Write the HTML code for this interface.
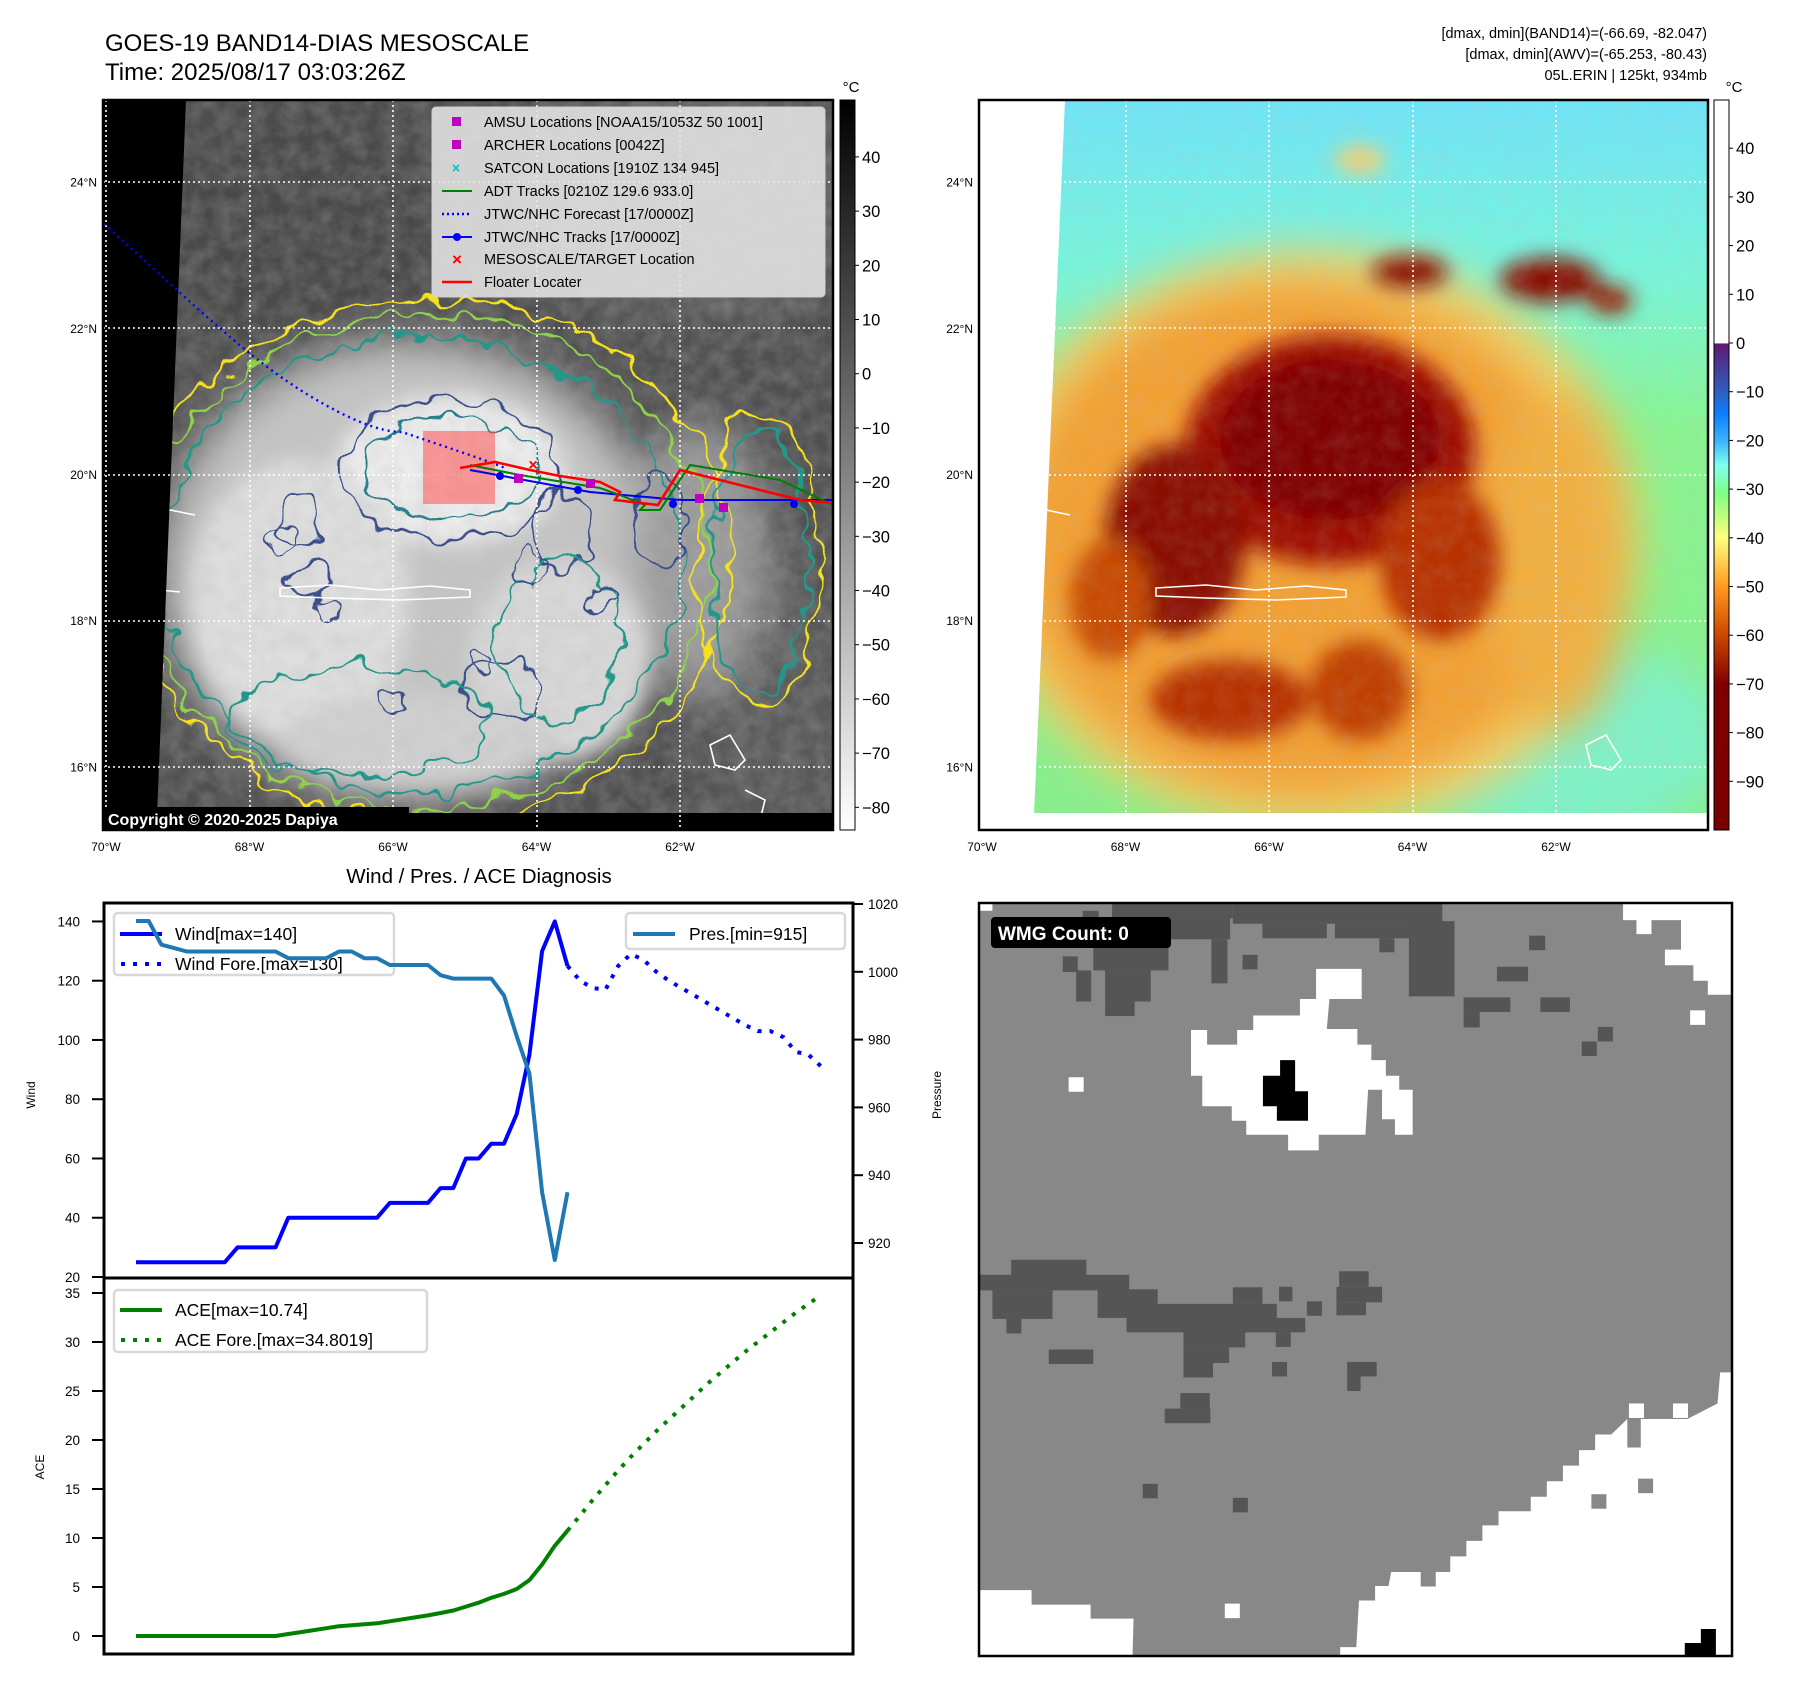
<!DOCTYPE html>
<html><head><meta charset="utf-8"><style>
html,body{margin:0;padding:0;background:#fff;}
svg{display:block;font-family:"Liberation Sans","DejaVu Sans",sans-serif;}
</style></head><body>
<svg id="root" width="1797" height="1690" viewBox="0 0 1797 1690" xmlns="http://www.w3.org/2000/svg">
<defs>
<filter id="b25" x="-50%" y="-50%" width="200%" height="200%"><feGaussianBlur stdDeviation="22"/></filter>
<filter id="b12" x="-50%" y="-50%" width="200%" height="200%"><feGaussianBlur stdDeviation="10"/></filter>
<filter id="wob" x="-20%" y="-20%" width="140%" height="140%"><feTurbulence type="fractalNoise" baseFrequency="0.035" numOctaves="2" seed="4"/><feDisplacementMap in="SourceGraphic" scale="34" xChannelSelector="R" yChannelSelector="G"/></filter>
<filter id="wob2" x="-20%" y="-20%" width="140%" height="140%"><feTurbulence type="fractalNoise" baseFrequency="0.05" numOctaves="2" seed="9"/><feDisplacementMap in="SourceGraphic" scale="28" xChannelSelector="R" yChannelSelector="G"/></filter>
<filter id="tex" x="0" y="0" width="100%" height="100%"><feTurbulence type="fractalNoise" baseFrequency="0.06" numOctaves="3" seed="2"/><feColorMatrix type="matrix" values="0 0 0 0 0.5  0 0 0 0 0.5  0 0 0 0 0.5  0 0 0 0.9 -0.25"/></filter>
<linearGradient id="cbGray" x1="0" y1="0" x2="0" y2="1"><stop offset="0" stop-color="#000"/><stop offset="1" stop-color="#fff"/></linearGradient>
<linearGradient id="cbColor" x1="0" y1="0" x2="0" y2="1">
<stop offset="0" stop-color="#fff"/><stop offset="0.333" stop-color="#fff"/>
<stop offset="0.334" stop-color="#5e1a70"/><stop offset="0.40" stop-color="#2f5fc0"/><stop offset="0.43" stop-color="#0a80ff"/>
<stop offset="0.47" stop-color="#40b8ff"/><stop offset="0.50" stop-color="#80fff0"/><stop offset="0.54" stop-color="#80ff80"/>
<stop offset="0.60" stop-color="#ffff80"/><stop offset="0.667" stop-color="#ff9a20"/><stop offset="0.73" stop-color="#d04a00"/>
<stop offset="0.80" stop-color="#800000"/><stop offset="1" stop-color="#7a0000"/></linearGradient>
<linearGradient id="sky2" x1="0" y1="0" x2="0" y2="1"><stop offset="0" stop-color="#6fe4f8"/><stop offset="0.25" stop-color="#78f6d8"/><stop offset="0.45" stop-color="#88f590"/><stop offset="1" stop-color="#86f08c"/></linearGradient>
<clipPath id="clipM1"><rect x="103" y="100" width="730" height="730"/></clipPath>
<clipPath id="clipM2"><rect x="979" y="100" width="729" height="730"/></clipPath>
</defs>

<text x="105" y="51" font-size="24">GOES-19 BAND14-DIAS MESOSCALE</text>
<text x="105" y="80" font-size="24">Time: 2025/08/17 03:03:26Z</text>
<g font-size="14.5" text-anchor="end">
<text x="1707" y="38">[dmax, dmin](BAND14)=(-66.69, -82.047)</text>
<text x="1707" y="59">[dmax, dmin](AWV)=(-65.253, -80.43)</text>
<text x="1707" y="80">05L.ERIN | 125kt, 934mb</text>
</g>

<g clip-path="url(#clipM1)">
<rect x="103" y="100" width="730" height="730" fill="#505050"/>
<ellipse cx="700" cy="200" rx="180" ry="120" fill="#5e5e5e" filter="url(#b25)"/>
<ellipse cx="300" cy="220" rx="150" ry="120" fill="#484848" filter="url(#b25)"/>
<ellipse cx="780" cy="700" rx="90" ry="130" fill="#5a5a5a" filter="url(#b25)"/>
<g filter="url(#b25)">
<ellipse cx="410" cy="570" rx="250" ry="230" fill="#c4c4c4"/>
<ellipse cx="700" cy="560" rx="70" ry="140" fill="#9a9a9a"/>
</g>
<g filter="url(#b12)">
<ellipse cx="450" cy="470" rx="115" ry="75" fill="#ececec"/>
<ellipse cx="300" cy="600" rx="110" ry="140" fill="#dedede"/>
<ellipse cx="560" cy="660" rx="90" ry="100" fill="#d8d8d8"/>
<ellipse cx="420" cy="740" rx="140" ry="45" fill="#d0d0d0"/>
</g>
<rect x="103" y="100" width="730" height="730" filter="url(#tex)" opacity="0.5"/>
<g fill="none" stroke-width="2.4" filter="url(#wob)">
<ellipse cx="430" cy="560" rx="300" ry="262" stroke="#f5e21a"/>
<ellipse cx="425" cy="562" rx="285" ry="248" stroke="#8fd24a"/>
<ellipse cx="420" cy="565" rx="262" ry="228" stroke="#23978a"/>
<ellipse cx="760" cy="560" rx="60" ry="150" stroke="#f5e21a"/>
<ellipse cx="760" cy="560" rx="48" ry="136" stroke="#23978a"/>
<ellipse cx="450" cy="470" rx="110" ry="70" stroke="#3b4f8c"/>
<ellipse cx="450" cy="470" rx="88" ry="50" stroke="#2a7f8e"/>
<ellipse cx="560" cy="530" rx="30" ry="40" stroke="#3b4f8c"/>
<ellipse cx="300" cy="520" rx="20" ry="30" stroke="#3b4f8c"/>
<ellipse cx="310" cy="580" rx="25" ry="18" stroke="#3b4f8c"/>
<ellipse cx="500" cy="690" rx="40" ry="30" stroke="#3b4f8c"/>
<ellipse cx="660" cy="520" rx="25" ry="45" stroke="#3b4f8c"/>
<ellipse cx="360" cy="720" rx="130" ry="55" stroke="#23978a"/>
<ellipse cx="560" cy="640" rx="60" ry="80" stroke="#23978a"/>
</g>
<g fill="none" stroke="#3b4f8c" stroke-width="2" filter="url(#wob2)">
<ellipse cx="280" cy="540" rx="14" ry="14"/><ellipse cx="330" cy="610" rx="12" ry="10"/>
<ellipse cx="480" cy="660" rx="12" ry="12"/><ellipse cx="530" cy="570" rx="15" ry="18"/>
<ellipse cx="390" cy="700" rx="12" ry="9"/><ellipse cx="600" cy="600" rx="14" ry="14"/>
</g>
<g fill="none" stroke="#fff" stroke-width="1.6">
<path d="M103,498 L130,500 L145,520 L170,510 L195,515"/>
<path d="M103,590 L140,588 L180,592"/>
<path d="M280,588 L330,585 L380,590 L430,586 L470,590 L470,597 L400,600 L330,598 L280,596 Z"/>
<path d="M710,745 L730,735 L745,760 L735,770 L715,765 Z"/>
<path d="M745,790 L765,800 L760,820"/>
</g>
<polygon points="103,100 186,100 157,815 103,815" fill="#000"/>
<rect x="103" y="813" width="730" height="17" fill="#000"/>
<g stroke="#fff" stroke-width="1.6" stroke-dasharray="2,3">
<line x1="106" y1="100" x2="106" y2="830"/><line x1="250" y1="100" x2="250" y2="830"/><line x1="393" y1="100" x2="393" y2="830"/><line x1="537" y1="100" x2="537" y2="830"/><line x1="680" y1="100" x2="680" y2="830"/>
<line x1="103" y1="182" x2="833" y2="182"/><line x1="103" y1="328" x2="833" y2="328"/><line x1="103" y1="475" x2="833" y2="475"/><line x1="103" y1="621" x2="833" y2="621"/><line x1="103" y1="767" x2="833" y2="767"/>
</g>
<rect x="423" y="431" width="72" height="73" fill="#ff5050" fill-opacity="0.55"/>
<path d="M104,224 C200,310 250,360 310,396 C350,420 380,432 402,432 C440,445 480,458 505,468" fill="none" stroke="#0000ff" stroke-width="2.4" stroke-dasharray="2,4"/>
<path d="M470,470 L590,492 L680,500 L833,500" fill="none" stroke="#0000ee" stroke-width="2"/>
<g fill="#0000ee"><circle cx="500" cy="476" r="4"/><circle cx="578" cy="490" r="4"/><circle cx="673" cy="504" r="4"/><circle cx="794" cy="504" r="4"/></g>
<path d="M470,465 L520,475 L600,488 L620,495 L645,505 L640,510 L660,510 L690,465 L780,480 L833,505" fill="none" stroke="#008000" stroke-width="2"/>
<path d="M460,468 L495,462 L530,470 L560,476 L600,482 L620,492 L615,500 L658,505 L680,470 L760,490 L800,500 L833,503" fill="none" stroke="#ff0000" stroke-width="2.6"/>
<g fill="#c000c0"><rect x="514" y="474" width="9" height="9"/><rect x="586" y="479" width="9" height="9"/><rect x="695" y="494" width="9" height="9"/><rect x="719" y="503" width="9" height="9"/></g>
<text x="533" y="470" font-size="16" fill="#ff0000" text-anchor="middle" font-weight="bold">×</text>
</g>
<rect x="103" y="100" width="730" height="730" fill="none" stroke="#000" stroke-width="2.5"/>
<rect x="103" y="807" width="306" height="24" fill="#000"/>
<text x="108" y="825" font-size="16" font-weight="bold" fill="#fff">Copyright © 2020-2025 Dapiya</text>
<g>
<rect x="432" y="107" width="393" height="190" rx="4" fill="#e4e4e4" fill-opacity="0.88" stroke="#cfcfcf"/>
<g font-size="14.5">
<rect x="452" y="117" width="9" height="9" fill="#c000c0"/><text x="484" y="127">AMSU Locations [NOAA15/1053Z 50 1001]</text>
<rect x="452" y="140" width="9" height="9" fill="#c000c0"/><text x="484" y="150">ARCHER Locations [0042Z]</text>
<text x="456" y="173" fill="#00c0c0" text-anchor="middle" font-weight="bold">×</text><text x="484" y="173">SATCON Locations [1910Z 134 945]</text>
<line x1="442" y1="191" x2="472" y2="191" stroke="#008000" stroke-width="2"/><text x="484" y="196">ADT Tracks [0210Z 129.6 933.0]</text>
<line x1="442" y1="214" x2="472" y2="214" stroke="#0000ff" stroke-width="2.4" stroke-dasharray="2,3"/><text x="484" y="219">JTWC/NHC Forecast [17/0000Z]</text>
<line x1="442" y1="237" x2="472" y2="237" stroke="#0000ff" stroke-width="2"/><circle cx="457" cy="237" r="4" fill="#0000ff"/><text x="484" y="242">JTWC/NHC Tracks [17/0000Z]</text>
<text x="457" y="265" fill="#ff0000" text-anchor="middle" font-weight="bold" font-size="17">×</text><text x="484" y="264">MESOSCALE/TARGET Location</text>
<line x1="442" y1="282" x2="472" y2="282" stroke="#ff0000" stroke-width="2.4"/><text x="484" y="287">Floater Locater</text>
</g></g>
<rect x="840" y="100" width="15" height="730" fill="url(#cbGray)" stroke="#000" stroke-width="1"/>
<text x="851" y="92" font-size="15" text-anchor="middle">°C</text>
<g id="cb1ticks" font-size="16.5"></g>
<g id="m1lat" font-size="12" text-anchor="end"></g>
<g id="m1lon" font-size="12" text-anchor="middle"></g>

<g clip-path="url(#clipM2)">
<rect x="979" y="100" width="729" height="730" fill="url(#sky2)"/>
<ellipse cx="1560" cy="740" rx="170" ry="100" fill="#7ef2c8" filter="url(#b25)"/>
<g filter="url(#b25)">
<ellipse cx="1310" cy="540" rx="330" ry="290" fill="#f8d060"/>
<ellipse cx="1300" cy="540" rx="290" ry="260" fill="#f2a030"/>
<ellipse cx="1560" cy="560" rx="70" ry="170" fill="#f2b040"/>
</g>
<g filter="url(#b12)">
<ellipse cx="1330" cy="450" rx="145" ry="115" fill="#a01000"/>
<ellipse cx="1330" cy="440" rx="110" ry="80" fill="#800000"/>
<ellipse cx="1175" cy="540" rx="70" ry="95" fill="#8a0800"/>
<ellipse cx="1440" cy="560" rx="60" ry="80" fill="#b83000"/>
<ellipse cx="1230" cy="700" rx="80" ry="40" fill="#b83000"/>
<ellipse cx="1360" cy="690" rx="50" ry="50" fill="#c04000"/>
<ellipse cx="1110" cy="600" rx="40" ry="60" fill="#c84800"/>
<ellipse cx="1410" cy="272" rx="38" ry="16" fill="#8a0c00"/>
<ellipse cx="1550" cy="280" rx="50" ry="22" fill="#8a1000"/>
<ellipse cx="1610" cy="300" rx="22" ry="14" fill="#9a1800"/>
<ellipse cx="1360" cy="160" rx="25" ry="14" fill="#f8d070"/>
</g>
<rect x="979" y="100" width="729" height="730" filter="url(#tex)" opacity="0.25"/>
<g fill="none" stroke="#fff" stroke-width="1.6">
<path d="M979,498 L1010,500 L1022,520 L1046,510 L1070,515"/>
<path d="M1156,588 L1206,585 L1256,590 L1306,586 L1346,590 L1346,597 L1276,600 L1206,598 L1156,596 Z"/>
<path d="M1586,745 L1606,735 L1621,760 L1611,770 L1591,765 Z"/>
</g>
<polygon points="979,100 1065,100 1034,815 979,815" fill="#fff"/>
<rect x="979" y="813" width="729" height="17" fill="#fff"/>
<g stroke="#fff" stroke-width="1.6" stroke-dasharray="2,3">
<line x1="982" y1="100" x2="982" y2="830"/><line x1="1126" y1="100" x2="1126" y2="830"/><line x1="1269" y1="100" x2="1269" y2="830"/><line x1="1413" y1="100" x2="1413" y2="830"/><line x1="1556" y1="100" x2="1556" y2="830"/>
<line x1="979" y1="182" x2="1708" y2="182"/><line x1="979" y1="328" x2="1708" y2="328"/><line x1="979" y1="475" x2="1708" y2="475"/><line x1="979" y1="621" x2="1708" y2="621"/><line x1="979" y1="767" x2="1708" y2="767"/>
</g>
</g>
<rect x="979" y="100" width="729" height="730" fill="none" stroke="#000" stroke-width="2.5"/>
<rect x="1714" y="100" width="15" height="730" fill="url(#cbColor)" stroke="#000" stroke-width="1"/>
<text x="1734" y="92" font-size="15" text-anchor="middle">°C</text>
<g id="cb2ticks" font-size="16.5"></g>
<g id="m2lat" font-size="12" text-anchor="end"></g>
<g id="m2lon" font-size="12" text-anchor="middle"></g>

<text x="479" y="883" font-size="20.5" text-anchor="middle">Wind / Pres. / ACE Diagnosis</text>
<g id="chart"></g>

<svg x="979" y="903" width="753" height="753" viewBox="37 45 1403 1452" preserveAspectRatio="none">
<rect x="37" y="45" width="1403" height="1452" fill="#888888"/>
<g fill="#555555">
<rect x="250" y="75" width="140" height="100"/><rect x="272" y="175" width="85" height="60"/><rect x="272" y="235" width="55" height="28"/><rect x="218" y="175" width="28" height="60"/><rect x="193" y="148" width="28" height="30"/><rect x="230" y="60" width="30" height="25"/>
<rect x="285" y="45" width="225" height="30"/><rect x="390" y="75" width="115" height="40"/><rect x="470" y="115" width="30" height="85"/><rect x="528" y="145" width="28" height="28"/>
<rect x="510" y="45" width="390" height="40"/><rect x="565" y="85" width="120" height="28"/><rect x="700" y="85" width="140" height="28"/><rect x="783" y="113" width="28" height="27"/><rect x="838" y="80" width="85" height="145"/><rect x="860" y="45" width="40" height="35"/>
<rect x="1002" y="168" width="58" height="28"/><rect x="1062" y="108" width="30" height="28"/><rect x="940" y="227" width="87" height="28"/><rect x="940" y="255" width="30" height="30"/><rect x="1083" y="227" width="55" height="28"/><rect x="1160" y="312" width="28" height="28"/><rect x="1190" y="284" width="28" height="28"/>
<rect x="97" y="733" width="140" height="30"/><rect x="37" y="762" width="280" height="30"/><rect x="62" y="792" width="112" height="55"/><rect x="258" y="790" width="112" height="55"/><rect x="88" y="847" width="28" height="28"/><rect x="312" y="818" width="280" height="55"/><rect x="418" y="872" width="115" height="30"/><rect x="418" y="902" width="85" height="30"/><rect x="418" y="932" width="55" height="28"/><rect x="510" y="786" width="55" height="32"/>
<rect x="708" y="755" width="55" height="30"/><rect x="703" y="785" width="85" height="30"/><rect x="703" y="815" width="55" height="25"/><rect x="590" y="845" width="55" height="28"/><rect x="590" y="873" width="28" height="28"/><rect x="648" y="813" width="28" height="28"/><rect x="596" y="785" width="25" height="28"/><rect x="167" y="906" width="83" height="28"/><rect x="583" y="930" width="28" height="28"/><rect x="723" y="930" width="55" height="28"/><rect x="723" y="958" width="25" height="28"/><rect x="412" y="990" width="55" height="30"/><rect x="383" y="1020" width="85" height="28"/><rect x="342" y="1165" width="28" height="28"/><rect x="510" y="1192" width="28" height="28"/>
</g>
<rect x="200" y="818" width="28" height="28" fill="#888"/>
<g fill="#ffffff">
<polygon points="1237,45 1440,45 1440,222 1395,222 1395,195 1368,195 1368,165 1315,165 1315,135 1345,135 1345,78 1290,78 1290,105 1262,105 1262,78 1237,78"/>
<rect x="37" y="45" width="25" height="15"/>
<polygon points="665,172 750,172 750,230 690,230 685,288 742,288 742,318 768,318 768,348 795,348 795,378 820,378 820,405 845,405 845,492 812,492 812,462 788,462 788,405 762,405 757,492 670,492 670,522 613,522 613,492 535,492 535,465 508,465 508,437 453,437 453,378 432,378 432,290 462,290 462,318 518,318 518,290 548,290 548,262 635,262 635,230 665,230"/>
<rect x="204" y="381" width="28" height="28"/><rect x="1362" y="252" width="28" height="28"/><rect x="495" y="1396" width="28" height="28"/>
<polygon points="1440,950 1418,950 1413,1010 1357,1040 1245,1040 1215,1070 1185,1070 1185,1100 1155,1100 1155,1130 1125,1130 1125,1160 1095,1160 1095,1190 1065,1190 1065,1218 1005,1218 1005,1245 975,1245 975,1275 945,1275 945,1305 915,1305 915,1335 805,1335 800,1362 775,1362 775,1390 745,1390 740,1480 710,1480 710,1497 1440,1497"/>
<polygon points="37,1370 135,1370 135,1398 245,1398 245,1425 325,1425 323,1497 37,1497"/>
</g>
<g fill="#888"><rect x="1178" y="1185" width="28" height="28"/><rect x="1265" y="1155" width="28" height="28"/><rect x="860" y="1335" width="28" height="28"/><rect x="1245" y="1040" width="25" height="55"/><rect x="1330" y="1010" width="25" height="28"/></g>
<g fill="#ffffff"><rect x="1248" y="1010" width="28" height="28"/><rect x="1330" y="1010" width="28" height="28"/></g>
<g fill="#000"><polygon points="598,348 626,348 626,408 650,408 650,465 592,465 592,437 566,437 566,378 598,378"/><polygon points="1352,1472 1382,1472 1382,1445 1410,1445 1410,1497 1352,1497"/></g>
</svg>
<rect x="979" y="903" width="753" height="753" fill="none" stroke="#000" stroke-width="2.5"/>
<rect x="991" y="917" width="180" height="31" rx="4" fill="#000"/>
<text x="998" y="940" font-size="19" font-weight="bold" fill="#fff">WMG Count: 0</text>
</svg>

<script>
var windObs = [25,25,25,25,25,25,25,25,30,30,30,30,40,40,40,40,40,40,40,40,45,45,45,45,50,50,60,60,65,65,75,95,130,140,125];
var windFore = [125,120,117.5,117,125,129,127,123,120,117.5,115,112.5,110,107.5,105,103,103,101,96,95,91];
var presObs = [1015,1015,1008,1007,1006,1006,1006,1006,1006,1006,1006,1006,1004,1004,1004,1004,1006,1006,1004,1004,1002,1002,1002,1002,999,998,998,998,998,993,981,970,935,915,935];
var aceObs = [0,0,0,0,0,0,0,0,0,0,0,0,0.2,0.4,0.6,0.8,1.0,1.1,1.2,1.3,1.5,1.7,1.9,2.1,2.35,2.6,3.0,3.4,3.9,4.3,4.8,5.7,7.3,9.2,10.74];
var aceFore = [10.74,12.3,13.9,15.4,16.9,18.3,19.6,20.9,22.1,23.3,24.5,25.7,26.8,27.9,29.0,30.0,31.0,32.0,33.0,33.9,34.8];
var windTicks = [20,40,60,80,100,120,140];
var presTicks = [920,940,960,980,1000,1020];
var aceTicks = [0,5,10,15,20,25,30,35];
var cb1Ticks = [40,30,20,10,0,-10,-20,-30,-40,-50,-60,-70,-80];
var cb2Ticks = [40,30,20,10,0,-10,-20,-30,-40,-50,-60,-70,-80,-90];
var latTicks = [24,22,20,18,16];
var lonTicks = [70,68,66,64,62];

var NS = 'http://www.w3.org/2000/svg';
function mk(tag, attrs, parent, txt){var e=document.createElementNS(NS,tag);for(var k in attrs)e.setAttribute(k,attrs[k]);if(txt!==undefined)e.textContent=txt;parent.appendChild(e);return e;}
function xs(i){return 136+12.69*i;}
function yW(v){return 1277-(v-20)*2.963;}
function yP(p){return 904+(1020-p)*3.39;}
function yA(a){return 1636-a*9.8;}
function yCb1(v){return 100+(50.5-v)*5.42;}
function yCb2(v){return 343-v*4.87;}
function yLat(l){return 475-(l-20)*73.1;}
function xLon(l){return 106+(70-l)*71.75;}
function pts(arr, off, yf){var s=[];for(var i=0;i<arr.length;i++)s.push(xs(i+off).toFixed(1)+','+yf(arr[i]).toFixed(1));return s.join(' ');}
function neg(v){return v<0?'\u2212'+(-v):String(v);}

var g1=document.getElementById('cb1ticks');
cb1Ticks.forEach(function(v){var y=yCb1(v);mk('line',{x1:855,y1:y,x2:859,y2:y,stroke:'#000'},g1);
var t=mk('text',{x:862,y:y+6},g1,neg(v));

});
var g2=document.getElementById('cb2ticks');
cb2Ticks.forEach(function(v){var y=yCb2(v);mk('line',{x1:1729,y1:y,x2:1733,y2:y,stroke:'#000'},g2);
var t=mk('text',{x:1736,y:y+6},g2,neg(v));

});
[['m1lat',97],['m2lat',973]].forEach(function(p){var g=document.getElementById(p[0]);latTicks.forEach(function(l){
var t=mk('text',{x:p[1],y:yLat(l)+4},g,l+'\u00b0N');

});});
[['m1lon',0],['m2lon',876]].forEach(function(p){var g=document.getElementById(p[0]);lonTicks.forEach(function(l){
var t=mk('text',{x:xLon(l)+p[1],y:851},g,l+'\u00b0W');

});});

var c=document.getElementById('chart');
windTicks.forEach(function(v){var y=yW(v);mk('line',{x1:92,y1:y,x2:103,y2:y,stroke:'#000','stroke-width':2},c);
var t=mk('text',{x:80,y:y+5,'font-size':13.5,'text-anchor':'end'},c,v);

});
presTicks.forEach(function(v){var y=yP(v);mk('line',{x1:853,y1:y,x2:863,y2:y,stroke:'#000','stroke-width':2},c);
var t=mk('text',{x:868,y:y+5,'font-size':13.5},c,v);

});
aceTicks.forEach(function(v){var y=yA(v);mk('line',{x1:92,y1:y,x2:103,y2:y,stroke:'#000','stroke-width':2},c);
var t=mk('text',{x:80,y:y+5,'font-size':13.5,'text-anchor':'end'},c,v);

});
var yl=mk('text',{x:0,y:0,'font-size':12,'text-anchor':'middle',transform:'translate(35,1095) rotate(-90)'},c,'Wind');


var pl=mk('text',{x:0,y:0,'font-size':12,'text-anchor':'middle',transform:'translate(941,1095) rotate(-90)'},c,'Pressure');


var al=mk('text',{x:0,y:0,'font-size':12,'text-anchor':'middle',transform:'translate(44,1467) rotate(-90)'},c,'ACE');



var lg=mk('g',{},c);


mk('rect',{x:114,y:913,width:280,height:62,rx:4,fill:'#fff','fill-opacity':0.85,stroke:'#d8d8d8','stroke-width':2.5},lg);
mk('line',{x1:120,y1:934,x2:162,y2:934,stroke:'#0000ff','stroke-width':4},lg);
mk('text',{x:175,y:940,'font-size':17.5},lg,'Wind[max=140]');
mk('line',{x1:121,y1:964,x2:162,y2:964,stroke:'#0000ff','stroke-width':4,'stroke-dasharray':'4,8'},lg);
mk('text',{x:175,y:970,'font-size':17.5},lg,'Wind Fore.[max=130]');

var w=mk('polyline',{points:pts(windObs,0,yW),fill:'none',stroke:'#0000ff','stroke-width':4,'stroke-linejoin':'round'},c);


var wf=mk('polyline',{points:pts(windFore,34,yW),fill:'none',stroke:'#0000ff','stroke-width':4,'stroke-dasharray':'4,8'},c);


var p=mk('polyline',{points:pts(presObs,0,yP),fill:'none',stroke:'#1f77b4','stroke-width':4,'stroke-linejoin':'round'},c);



var pg=mk('g',{},c);


mk('rect',{x:626,y:913,width:219,height:36,rx:4,fill:'#fff','fill-opacity':0.85,stroke:'#d8d8d8','stroke-width':2.5},pg);
mk('line',{x1:633,y1:934,x2:675,y2:934,stroke:'#1f77b4','stroke-width':4},pg);
mk('text',{x:689,y:940,'font-size':17.5},pg,'Pres.[min=915]');

var ag=mk('g',{},c);


mk('rect',{x:114,y:1290,width:313,height:62,rx:4,fill:'#fff','fill-opacity':0.85,stroke:'#d8d8d8','stroke-width':2.5},ag);
mk('line',{x1:120,y1:1310,x2:162,y2:1310,stroke:'#008000','stroke-width':4},ag);
mk('text',{x:175,y:1316,'font-size':17.5},ag,'ACE[max=10.74]');
mk('line',{x1:121,y1:1340,x2:162,y2:1340,stroke:'#008000','stroke-width':4,'stroke-dasharray':'4,8'},ag);
mk('text',{x:175,y:1346,'font-size':17.5},ag,'ACE Fore.[max=34.8019]');

var a=mk('polyline',{points:pts(aceObs,0,yA),fill:'none',stroke:'#008000','stroke-width':4,'stroke-linejoin':'round'},c);


var af=mk('polyline',{points:pts(aceFore,34,yA),fill:'none',stroke:'#008000','stroke-width':4,'stroke-dasharray':'4,8'},c);



mk('rect',{x:104,y:903,width:749,height:375,fill:'none',stroke:'#000','stroke-width':3},c);
mk('rect',{x:104,y:1278,width:749,height:376,fill:'none',stroke:'#000','stroke-width':3},c);
</script>
</body></html>
